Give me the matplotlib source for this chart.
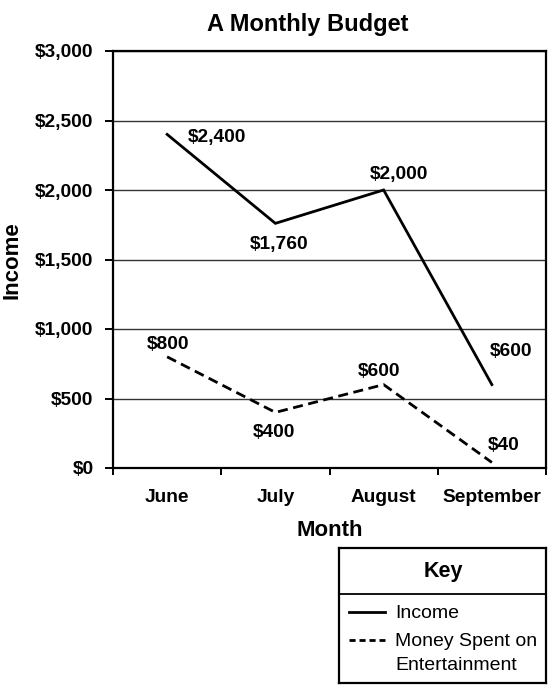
import matplotlib.pyplot as plt
from matplotlib.lines import Line2D

plt.rcParams['font.family'] = ['Liberation Sans', 'DejaVu Sans']

months = ['June', 'July', 'August', 'September']
income = [2400, 1760, 2000, 600]
entertainment = [800, 400, 600, 40]
income_labels = ['$2,400', '$1,760', '$2,000', '$600']
ent_labels = ['$800', '$400', '$600', '$40']
yticks = [0, 500, 1000, 1500, 2000, 2500, 3000]
ytick_labels = ['$0', '$500', '$1,000', '$1,500', '$2,000', '$2,500', '$3,000']

# label offsets in pixels (dx, dy), y up
income_off = [(50, -3), (4, -21), (15, 16), (19, 33)]
ent_off = [(1, 12), (-1, -20), (-5, 13), (12, 17)]

W, H = 559, 696
fig = plt.figure(figsize=(W / 100, H / 100), dpi=100)
ax = fig.add_axes([113 / W, 1 - 468 / H, 433 / W, 417 / H])

x = list(range(len(months)))
ax.plot(x, income, color='black', lw=2.0, solid_joinstyle='miter')
ax.plot(x, entertainment, color='black', lw=2.0, dashes=(3.6, 2.0))

for xi, v, lab, off in zip(x, income, income_labels, income_off):
    ax.annotate(lab, (xi, v), xytext=off, textcoords='offset pixels',
                ha='center', va='center', fontsize=13.8, fontweight='bold')
for xi, v, lab, off in zip(x, entertainment, ent_labels, ent_off):
    ax.annotate(lab, (xi, v), xytext=off, textcoords='offset pixels',
                ha='center', va='center', fontsize=13.8, fontweight='bold')

ax.set_xlim(-0.5, 3.5)
ax.set_ylim(0, 3000)
ax.set_yticks(yticks)
ax.set_yticklabels(ytick_labels, fontsize=13.8, fontweight='bold')
ax.set_xticks([-0.5, 0.5, 1.5, 2.5, 3.5])
ax.set_xticklabels([])
ax.set_xticks(x, minor=True)
ax.set_xticklabels(months, minor=True, fontsize=13.8, fontweight='bold')
ax.tick_params(axis='x', which='major', length=5, width=1.4, direction='out')
ax.tick_params(axis='x', which='minor', length=0, pad=15)
ax.tick_params(axis='y', length=6, width=1.4, pad=8)
for s in ax.spines.values():
    s.set_linewidth(1.6)
ax.yaxis.grid(True, color='#333333', lw=1.0)
ax.set_axisbelow(True)

ax.set_xlabel('Month', fontsize=16, fontweight='bold', labelpad=10)
fig.text(12 / W, 1 - 260 / H, 'Income', rotation=90, ha='center', va='center',
         fontsize=16, fontweight='bold')
fig.text(308 / W, 1 - 25 / H, 'A Monthly Budget', ha='center', va='center',
         fontsize=17, fontweight='bold')

# key box
kax = fig.add_axes([339 / W, 1 - 683 / H, 207 / W, 135 / H])
kax.set_xlim(0, 207)
kax.set_ylim(135, 0)
kax.set_xticks([])
kax.set_yticks([])
for s in kax.spines.values():
    s.set_linewidth(1.6)
kax.axhline(46, color='black', lw=1.3)
kax.text(104, 24, 'Key', ha='center', va='center', fontsize=15.5, fontweight='bold')
kax.add_line(Line2D([10, 46], [64, 64], color='black', lw=2.0))
kax.add_line(Line2D([10, 46], [92, 92], color='black', lw=2.0, dashes=(2.2, 1.4)))
kax.text(56, 65, 'Income', ha='left', va='center', fontsize=14)
kax.text(56, 93, 'Money Spent on', ha='left', va='center', fontsize=14)
kax.text(56, 117, 'Entertainment', ha='left', va='center', fontsize=14)

fig.savefig('out.png', dpi=100)
